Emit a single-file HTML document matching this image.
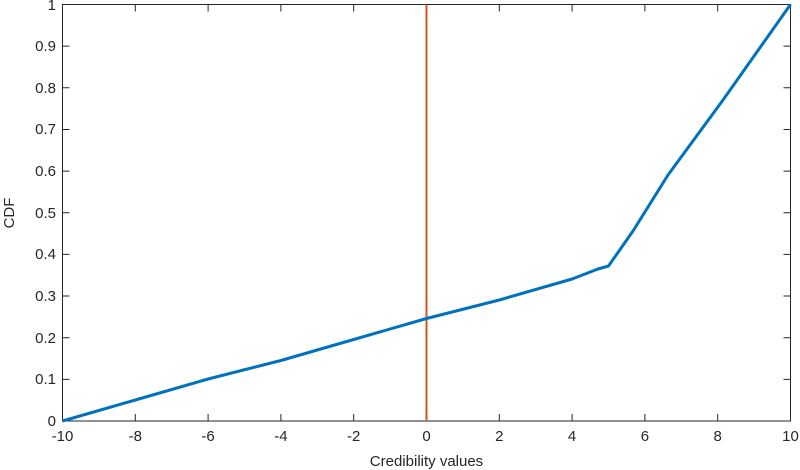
<!DOCTYPE html><html><head><style>body{margin:0;background:#fff}svg{display:block}text{font-family:"Liberation Sans",sans-serif;font-size:15px;fill:#262626}</style></head><body>
<svg width="800" height="470" xmlns="http://www.w3.org/2000/svg">
<rect x="62.5" y="4.5" width="728" height="416.5" fill="#fff" stroke="#262626" stroke-width="1"/>
<g stroke="#262626" stroke-width="1">
<path d="M62.5 421v-7M135.3 421v-7M208.1 421v-7M280.9 421v-7M353.7 421v-7M426.5 421v-7M499.3 421v-7M572.1 421v-7M644.9 421v-7M717.7 421v-7M790.5 421v-7"/>
<path d="M62.5 4.5v7M135.3 4.5v7M208.1 4.5v7M280.9 4.5v7M353.7 4.5v7M426.5 4.5v7M499.3 4.5v7M572.1 4.5v7M644.9 4.5v7M717.7 4.5v7M790.5 4.5v7"/>
<path d="M62.5 421h7M62.5 379.35h7M62.5 337.7h7M62.5 296.05h7M62.5 254.4h7M62.5 212.75h7M62.5 171.1h7M62.5 129.45h7M62.5 87.8h7M62.5 46.15h7M62.5 4.5h7"/>
<path d="M790.5 421h-7M790.5 379.35h-7M790.5 337.7h-7M790.5 296.05h-7M790.5 254.4h-7M790.5 212.75h-7M790.5 171.1h-7M790.5 129.45h-7M790.5 87.8h-7M790.5 46.15h-7M790.5 4.5h-7"/>
</g>
<g text-anchor="middle">
<text x="62.5" y="441">-10</text><text x="135.3" y="441">-8</text><text x="208.1" y="441">-6</text><text x="280.9" y="441">-4</text><text x="353.7" y="441">-2</text><text x="426.5" y="441">0</text><text x="499.3" y="441">2</text><text x="572.1" y="441">4</text><text x="644.9" y="441">6</text><text x="717.7" y="441">8</text><text x="790.5" y="441">10</text>
<text x="426.5" y="466" font-size="16">Credibility values</text>
</g>
<g text-anchor="end">
<text x="56" y="426">0</text><text x="56" y="384">0.1</text><text x="56" y="343">0.2</text><text x="56" y="301">0.3</text><text x="56" y="259">0.4</text><text x="56" y="218">0.5</text><text x="56" y="176">0.6</text><text x="56" y="134">0.7</text><text x="56" y="93">0.8</text><text x="56" y="51">0.9</text><text x="56" y="10">1</text>
</g>
<text transform="translate(14 213) rotate(-90)" text-anchor="middle" font-size="16">CDF</text>
<line x1="426.5" y1="4.5" x2="426.5" y2="421" stroke="#d95319" stroke-width="2"/>
<polyline fill="none" stroke="#0072bd" stroke-width="3" stroke-linejoin="round" points="62.5,421 135.3,400 208.1,379 280.9,360.5 353.7,339.5 426.5,318.5 499.3,300 572.1,279 598,269 608.5,266 633,231 668,175 723,100 790.5,4.5"/>
</svg></body></html>
